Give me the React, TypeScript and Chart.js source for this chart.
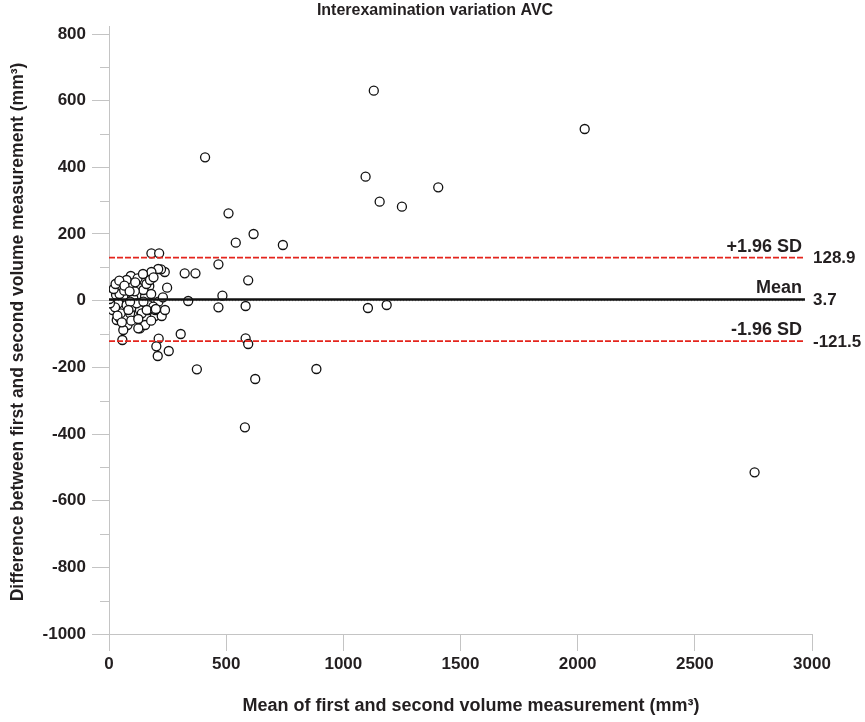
import React, { useEffect, useRef } from "react";
import { Chart, registerables } from "chart.js";

Chart.register(...registerables);

// Mean of the two measurements (mm³)
const meanValues: number[] = [
  2030, 1130, 410, 1095, 1405, 1155, 1250, 510, 617, 541, 742, 181, 214, 467, 594, 484,
  1105, 1185, 467, 583, 338, 323, 369, 306, 583, 594, 375, 885, 624, 580, 2755, 255,
  212, 202, 208, 57, 248, 238, 222, 210, 181,
  5, 7, 33, 40, 26, 54, 37, 73, 93, 104, 118, 125, 132, 151, 172, 154, 83, 61, 104, 19,
  147, 97, 75, 122,
  11, 16, 33, 47, 61, 68, 79, 61, 90, 104, 132, 140, 132, 154, 168, 168, 196, 211, 225,
  239, 189, 118, 40, 75, 90, 147, 50, 26, 4,
  2, 12, 30, 45, 65, 110, 160, 180, 125, 83, 161, 197,
  20, 28, 44, 66, 88, 112, 145, 175, 190, 230, 36, 55, 95, 125, 180, 200,
];

// Difference between the two measurements (mm³)
const diffValues: number[] = [
  515, 630, 430, 372, 340, 297, 282, 262, 200, 174, 167, 142, 142, 109, 61, 15,
  -22, -13, -20, -16, -1, 82, 82, -100, -113, -130, -206, -205, -235, -380, -515, -151,
  -114, -137, -166, -118, 39, 86, 94, 95, 86,
  0, 22, 52, 37, 27, 47, 32, 32, 74, 47, 17, 42, 64, 60, 44, 12, 17, 12, 7, 7,
  32, 52, 62, 67,
  -13, -28, -58, -53, -28, -53, -73, -88, -38, -18, -28, -38, -83, -73, -28, -13, -46, -3, -46,
  -28, -18, -8, -8, -13, -3, -3, -38, -20, -8,
  5, 15, 18, 20, 30, 28, 50, 20, -83, -28, -28, -28,
  35, 50, 60, 45, 28, 55, 80, 62, 70, 10, -45, -65, -60, -55, -60, -25,
];

const meanDiff = 3.7;
const upperLimit = 128.9;
const lowerLimit = -121.5;
const lineStart = 0;
const lineEnd = 2970;

const yTickValues: number[] = [-1000, -900, -800, -700, -600, -500, -400, -300, -200, -100, 0, 100, 200, 300, 400, 500, 600, 700, 800];

const chartTitle = "Interexamination variation AVC";
const xTitle = "Mean of first and second volume measurement (mm³)";
const yTitle = "Difference between first and second volume measurement (mm³)";

const AXIS_GREY = "#c4c4c4";
const TEXT = "#231f20";
const RED = "#e4251d";
const FONT = "'Liberation Sans', Arial, sans-serif";

const overlayPlugin = {
  id: "overlay",
  afterDraw(chart: any) {
    const ctx = chart.ctx as CanvasRenderingContext2D;
    const xs = chart.scales.x;
    const ys = chart.scales.y;
    const area = chart.chartArea;
    ctx.save();
    // minor ticks
    ctx.strokeStyle = AXIS_GREY;
    ctx.lineWidth = 1;
    yTickValues.forEach((v) => {
      if (v % 200 !== 0) {
        const py = Math.round(ys.getPixelForValue(v)) + 0.5;
        ctx.beginPath();
        ctx.moveTo(area.left - 9, py);
        ctx.lineTo(area.left, py);
        ctx.stroke();
      }
    });
    ctx.fillStyle = TEXT;
    // chart title
    ctx.font = `bold 16px ${FONT}`;
    ctx.textAlign = "center";
    ctx.textBaseline = "middle";
    ctx.fillText(chartTitle, 435, 11);
    // x title
    ctx.font = `bold 18px ${FONT}`;
    ctx.fillText(xTitle, 471, 706);
    // y title
    ctx.save();
    ctx.translate(18, 332);
    ctx.rotate(-Math.PI / 2);
    ctx.font = `bold 17.5px ${FONT}`;
    ctx.fillText(yTitle, 0, 0);
    ctx.restore();
    // reference labels
    const xEnd = xs.getPixelForValue(lineEnd);
    const items: [string, string, number][] = [
      ["+1.96 SD", upperLimit.toFixed(1), upperLimit],
      ["Mean", meanDiff.toFixed(1), meanDiff],
      ["-1.96 SD", lowerLimit.toFixed(1), lowerLimit],
    ];
    items.forEach(([name, val, v]) => {
      const py = ys.getPixelForValue(v);
      ctx.font = `bold 18px ${FONT}`;
      ctx.textAlign = "right";
      ctx.textBaseline = "alphabetic";
      ctx.fillText(name, xEnd - 3, py - 6);
      ctx.font = `bold 17px ${FONT}`;
      ctx.textAlign = "left";
      ctx.textBaseline = "middle";
      ctx.fillText(val, xEnd + 8, py + 1);
    });
    ctx.restore();
  },
};

export default function App() {
  const canvasRef = useRef<HTMLCanvasElement | null>(null);

  useEffect(() => {
    if (!canvasRef.current) return;
    const points = meanValues.map((m, i) => ({ x: m, y: diffValues[i] }));
    const hLine = (v: number) => [
      { x: lineStart, y: v },
      { x: lineEnd, y: v },
    ];
    const chart = new Chart(canvasRef.current, {
      type: "scatter",
      data: {
        datasets: [
          {
            type: "line",
            data: hLine(meanDiff),
            borderColor: "#111111",
            borderWidth: 2.6,
            pointRadius: 0,
            order: 0,
          } as any,
          {
            type: "line",
            data: hLine(upperLimit),
            borderColor: RED,
            borderWidth: 1.7,
            borderDash: [6, 2],
            pointRadius: 0,
            order: 0,
          } as any,
          {
            type: "line",
            data: hLine(lowerLimit),
            borderColor: RED,
            borderWidth: 1.7,
            borderDash: [6, 2],
            pointRadius: 0,
            order: 0,
          } as any,
          {
            type: "line",
            data: hLine(0),
            borderColor: "#999999",
            borderWidth: 1,
            borderDash: [1, 2],
            pointRadius: 0,
            order: 1,
          } as any,
          {
            data: points,
            pointRadius: 4.5,
            pointBorderWidth: 1.3,
            pointBackgroundColor: "#ffffff",
            pointBorderColor: "#111111",
            order: 2,
          },
        ],
      },
      options: {
        responsive: false,
        animation: false,
        events: [],
        layout: { padding: { top: 26, right: 53, left: 0, bottom: 0 } },
        plugins: {
          legend: { display: false },
          title: { display: false },
          tooltip: { enabled: false },
        },
        scales: {
          x: {
            type: "linear",
            min: 0,
            max: 3000,
            afterFit: (s: any) => {
              s.height = 88;
            },
            ticks: {
              stepSize: 500,
              padding: 3,
              color: TEXT,
              font: { family: FONT, size: 17, weight: "bold" },
              maxRotation: 0,
              callback: (v: any) => String(v),
            },
            grid: {
              display: true,
              drawOnChartArea: false,
              drawTicks: true,
              tickLength: 17,
              tickColor: AXIS_GREY,
            },
            border: { display: true, color: AXIS_GREY, width: 1 },
          },
          y: {
            type: "linear",
            min: -1000,
            max: 824,
            afterFit: (s: any) => {
              s.width = 109;
            },
            afterBuildTicks: (s: any) => {
              s.ticks = yTickValues.map((v) => ({ value: v }));
            },
            ticks: {
              padding: 6,
              color: TEXT,
              autoSkip: false,
              font: { family: FONT, size: 17, weight: "bold" },
              callback: (v: any) => (Number(v) % 200 === 0 ? String(v) : ""),
            },
            grid: {
              display: true,
              drawOnChartArea: false,
              drawTicks: true,
              tickLength: 17,
              tickColor: (c: any) =>
                c.tick && c.tick.value % 200 === 0 ? AXIS_GREY : "rgba(0,0,0,0)",
            },
            border: { display: true, color: AXIS_GREY, width: 1 },
          },
        },
      },
      plugins: [overlayPlugin],
    });
    return () => chart.destroy();
  }, []);

  return (
    <div style={{ position: "fixed", left: 0, top: 0, width: 865, height: 722, background: "#fff" }}>
      <canvas ref={canvasRef} width={865} height={722} style={{ display: "block" }} />
    </div>
  );
}
